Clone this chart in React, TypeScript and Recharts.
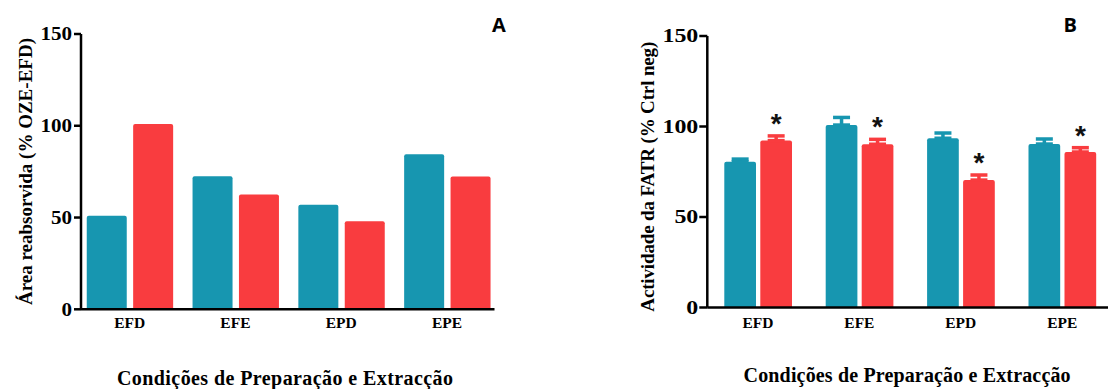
import { BarChart, Bar, XAxis, YAxis, ErrorBar, LabelList } from "recharts";

const categories = ["EFD", "EFE", "EPD", "EPE"];
const yTicks = [0, 50, 100, 150];

// panel A: área reabsorvida
const areaTeal = [51, 72.5, 57, 84.5];
const areaRed = [101, 62.5, 48, 72.3];

// panel B: actividade da FATR, mean + upper error
const fatrTeal = [80.5, 100.8, 93.5, 90.3];
const fatrTealErr = [1.5, 4.2, 2.9, 2.8];
const fatrRed = [92.2, 90.2, 70.4, 85.9];
const fatrRedErr = [2.6, 2.7, 2.8, 2.4];
const fatrRedStar = [true, true, true, true];

const TEAL = "#1796b0";
const RED = "#f93c3f";
const SERIF = '"Liberation Serif", "Times New Roman", serif';

const dataA = categories.map((c, i) => ({ cat: c, teal: areaTeal[i], red: areaRed[i] }));
const dataB = categories.map((c, i) => ({
  cat: c,
  teal: fatrTeal[i],
  red: fatrRed[i],
  tealErr: [0, fatrTealErr[i]],
  redErr: [0, fatrRedErr[i]],
}));

const makeYTick = (sx: number) => (props: any) => {
  const { x, y, payload } = props;
  return (
    <text
      transform={`translate(${x},${y}) scale(${sx},1)`}
      textAnchor="end"
      dy="0.35em"
      fontFamily={SERIF}
      fontWeight="bold"
      fontSize={18}
      fill="#000"
    >
      {payload.value}
    </text>
  );
};

const xTick = (props: any) => {
  const { x, y, payload } = props;
  return (
    <text x={x} y={y} dy="0.71em" textAnchor="middle" fontFamily={SERIF} fontWeight="bold" fontSize={15.5} fill="#000">
      {payload.value}
    </text>
  );
};

const Star = (props: any) => {
  const { x, y, width, height, value, index } = props;
  if (!fatrRedStar[index]) return null;
  const capY = y - (fatrRedErr[index] / value) * height;
  return (
    <text x={x + width / 2} y={capY - 19} dy="0.57em" textAnchor="middle" fontFamily='"Liberation Sans", Arial, sans-serif' fontWeight="bold" fontSize={28} fill="#111">
      *
    </text>
  );
};

const axisStroke = { stroke: "#000", strokeWidth: 2.5 };

export default function App() {
  return (
    <div style={{ position: "absolute", left: 0, top: 0, width: 1108, height: 389, overflow: "hidden", background: "#fff" }}>
      <div style={{ position: "absolute", left: 0, top: 0 }}>
        <BarChart width={560} height={389} data={dataA} margin={{ top: 34, right: 65.5, bottom: 0, left: 0 }} barSize={40} barGap={6.4}>
          <XAxis
            dataKey="cat"
            height={79.7}
            padding={{ left: -4.25, right: -5.45 }}
            tickLine={false}
            tickSize={0}
            tickMargin={8}
            axisLine={axisStroke}
            tick={xTick}
          />
          <YAxis
            width={81}
            domain={[0, 150]}
            ticks={yTicks}
            interval={0}
            tickSize={7}
            tickMargin={2}
            tickLine={axisStroke}
            axisLine={axisStroke}
            tick={makeYTick(1.17)}
          />
          <Bar dataKey="teal" fill={TEAL} radius={[2, 2, 0, 0]} isAnimationActive={false} />
          <Bar dataKey="red" fill={RED} radius={[2, 2, 0, 0]} isAnimationActive={false} />
        </BarChart>
      </div>

      <div style={{ position: "absolute", left: 600, top: 0 }}>
        <BarChart width={513.6} height={389} data={dataB} margin={{ top: 36, right: 0.7, bottom: 0, left: 0 }} barSize={31.7} barGap={4.3}>
          <XAxis
            dataKey="cat"
            height={81.5}
            tickLine={false}
            tickSize={0}
            tickMargin={9}
            axisLine={axisStroke}
            tick={xTick}
          />
          <YAxis
            width={107.3}
            domain={[0, 150]}
            ticks={yTicks}
            interval={0}
            tickSize={8}
            tickMargin={1}
            tickLine={axisStroke}
            axisLine={axisStroke}
            tick={makeYTick(1.33)}
          />
          <Bar dataKey="teal" fill={TEAL} radius={[2, 2, 0, 0]} isAnimationActive={false}>
            <ErrorBar dataKey="tealErr" direction="y" width={8.5} stroke={TEAL} strokeWidth={3.5} />
          </Bar>
          <Bar dataKey="red" fill={RED} radius={[2, 2, 0, 0]} isAnimationActive={false}>
            <ErrorBar dataKey="redErr" direction="y" width={8.5} stroke={RED} strokeWidth={3.5} />
            <LabelList dataKey="red" content={Star} />
          </Bar>
        </BarChart>
      </div>

      <svg width={1108} height={389} style={{ position: "absolute", left: 0, top: 0, pointerEvents: "none" }}>
        <text
          transform="translate(32,171.5) rotate(-90)"
          textAnchor="middle"
          textLength={267}
          fontFamily={SERIF}
          fontWeight="bold"
          fontSize={19}
        >
          Área reabsorvida (% OZE-EFD)
        </text>
        <text
          transform="translate(654,176.7) rotate(-90)"
          textAnchor="middle"
          textLength={270}
          fontFamily={SERIF}
          fontWeight="bold"
          fontSize={19}
        >
          Actividade da FATR (% Ctrl neg)
        </text>
        <text x={117} y={385} textLength={336} fontFamily={SERIF} fontWeight="bold" fontSize={20}>
          Condições de Preparação e Extracção
        </text>
        <text x={743.6} y={382} textLength={327} fontFamily={SERIF} fontWeight="bold" fontSize={20}>
          Condições de Preparação e Extracção
        </text>
        <text x={492} y={32} fontFamily='"Open Sans", sans-serif' fontWeight="bold" fontSize={20}>
          A
        </text>
        <text x={1063.5} y={32} fontFamily='"Open Sans", sans-serif' fontWeight="bold" fontSize={20}>
          B
        </text>
      </svg>
    </div>
  );
}
